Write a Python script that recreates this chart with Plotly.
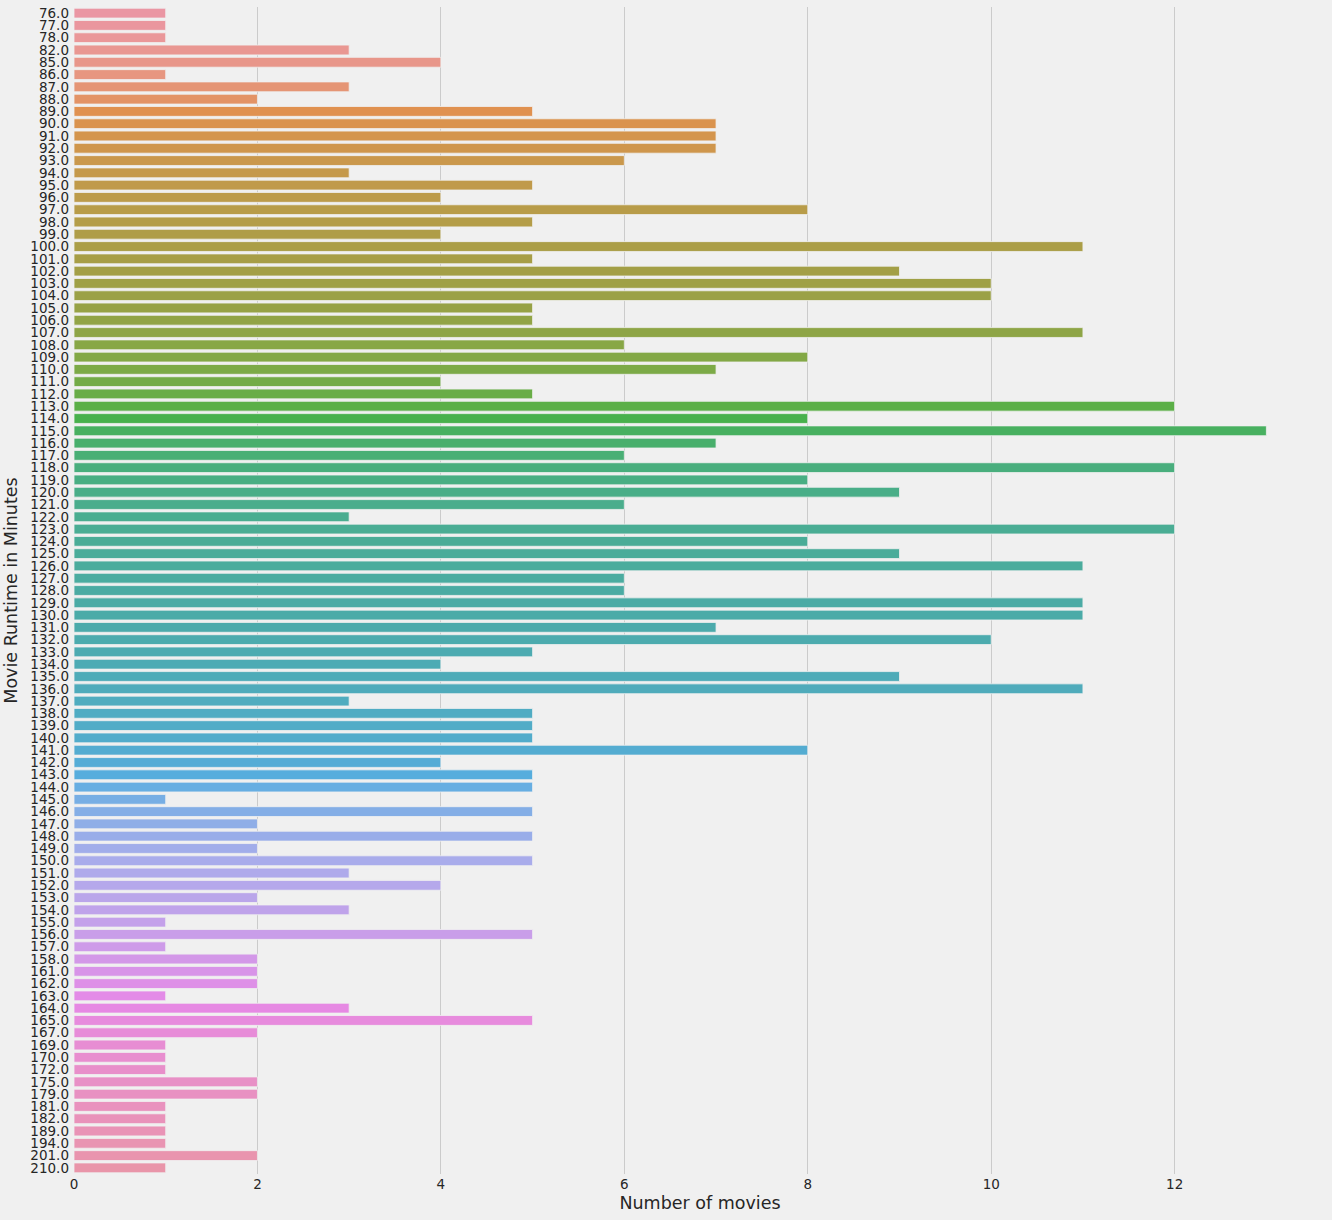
"""Horizontal count bars of movie runtimes, husl-coloured like a seaborn countplot."""
import colorsys
import math

import plotly.graph_objects as go

RUNTIMES = [
    76, 77, 78, 82, 85, 86, 87, 88, 89, 90, 91, 92, 93, 94, 95, 96, 97, 98, 99,
    100, 101, 102, 103, 104, 105, 106, 107, 108, 109, 110, 111, 112, 113, 114,
    115, 116, 117, 118, 119, 120, 121, 122, 123, 124, 125, 126, 127, 128, 129,
    130, 131, 132, 133, 134, 135, 136, 137, 138, 139, 140, 141, 142, 143, 144,
    145, 146, 147, 148, 149, 150, 151, 152, 153, 154, 155, 156, 157, 158, 161,
    162, 163, 164, 165, 167, 169, 170, 172, 175, 179, 181, 182, 189, 194, 201,
    210,
]
COUNTS = [
    1, 1, 1, 3, 4, 1, 3, 2, 5, 7, 7, 7, 6, 3, 5, 4, 8, 5, 4,
    11, 5, 9, 10, 10, 5, 5, 11, 6, 8, 7, 4, 5, 12, 8,
    13, 7, 6, 12, 8, 9, 6, 3, 12, 8, 9, 11, 6, 6, 11,
    11, 7, 10, 5, 4, 9, 11, 3, 5, 5, 5, 8, 4, 5, 5,
    1, 5, 2, 5, 2, 5, 3, 4, 2, 3, 1, 5, 1, 2, 2,
    2, 1, 3, 5, 2, 1, 1, 1, 2, 2, 1, 1, 1, 1, 2,
    1,
]
LABELS = [f"{float(v):.1f}" for v in RUNTIMES]
X_TICKS = [0, 2, 4, 6, 8, 10, 12]

BG = "#f0f0f0"
GRID = "#cbcbcb"
INK = "#262626"
FONT = "DejaVu Sans, sans-serif"

# --- husl (as in seaborn.external.husl) ---------------------------------
M = [[3.2406, -1.5372, -0.4986],
     [-0.9689, 1.8758, 0.0415],
     [0.0557, -0.2040, 1.0570]]
REF_Y, REF_U, REF_V = 1.0, 0.19784, 0.46834
LAB_E, LAB_K = 0.008856, 903.3


def max_chroma(L, H):
    hrad = math.radians(H)
    sin_h, cos_h = math.sin(hrad), math.cos(hrad)
    sub1 = (L + 16) ** 3 / 1560896.0
    sub2 = sub1 if sub1 > LAB_E else L / LAB_K
    best = float("inf")
    for m1, m2, m3 in M:
        top = (0.99915 * m1 + 1.05122 * m2 + 1.14460 * m3) * sub2
        rbottom = 0.86330 * m3 - 0.17266 * m2
        lbottom = 0.12949 * m3 - 0.38848 * m1
        bottom = (rbottom * sin_h + lbottom * cos_h) * sub2
        for t in (0.0, 1.0):
            c = L * (top - 1.05122 * t) / (bottom + 0.17266 * sin_h * t)
            if 0.0 < c < best:
                best = c
    return best


def f_inv(t):
    return t ** 3 if t ** 3 > LAB_E else (116 * t - 16) / LAB_K


def from_linear(c):
    return 12.92 * c if c <= 0.0031308 else 1.055 * c ** (1 / 2.4) - 0.055


def husl_to_rgb(h, s, l):
    C = max_chroma(l, h) / 100.0 * s
    hrad = math.radians(h)
    U, V = C * math.cos(hrad), C * math.sin(hrad)
    var_y = f_inv((l + 16) / 116.0)
    var_u = U / (13.0 * l) + REF_U
    var_v = V / (13.0 * l) + REF_V
    Y = var_y * REF_Y
    X = -(9.0 * Y * var_u) / ((var_u - 4.0) * var_v - var_u * var_v)
    Z = (9.0 * Y - 15.0 * var_v * Y - var_v * X) / (3.0 * var_v)
    rgb = [from_linear(r[0] * X + r[1] * Y + r[2] * Z) for r in M]
    return [min(max(c, 0.0), 1.0) for c in rgb]


def bar_colors(n, sat=0.75):
    out = []
    for i in range(n):
        h = ((i / n + 0.01) % 1) * 359
        r, g, b = husl_to_rgb(h, 0.9 * 99, 0.7 * 99)
        hh, ll, ss = colorsys.rgb_to_hls(r, g, b)
        r, g, b = colorsys.hls_to_rgb(hh, ll, ss * sat)
        out.append(f"rgb({r*255:.0f},{g*255:.0f},{b*255:.0f})")
    return out


fig = go.Figure(go.Bar(
    x=COUNTS, y=LABELS, orientation="h",
    marker=dict(color=bar_colors(len(LABELS)), line=dict(color=BG, width=0.8)),
    hovertemplate="%{y}: %{x}<extra></extra>",
))

fig.update_xaxes(
    range=[0, 13.65], tickvals=X_TICKS,
    showgrid=True, gridcolor=GRID, gridwidth=1,
    zeroline=False, showline=False, ticks="",
    tickfont=dict(size=13.5, color=INK),
    title=dict(text="Number of movies", font=dict(size=17.5, color=INK), standoff=6),
    automargin=False,
)
fig.update_yaxes(
    type="category", categoryorder="array", categoryarray=LABELS,
    tickmode="array", tickvals=LABELS, ticktext=LABELS,
    range=[len(LABELS) - 0.5, -0.5],
    showgrid=False, zeroline=False, showline=False, ticks="",
    ticklabelstandoff=4,
    tickfont=dict(size=13.5, color=INK),
    title=dict(text="Movie Runtime in Minutes", font=dict(size=17.5, color=INK), standoff=8),
    automargin=False,
)

fig.update_layout(
    width=1332, height=1220,
    margin=dict(l=74, r=6, t=7, b=46),
    bargap=0.2,
    paper_bgcolor=BG, plot_bgcolor=BG,
    font=dict(family=FONT, color=INK),
    showlegend=False,
)

fig.write_html(
    "out.html",
    config={"displayModeBar": False},
    post_script="document.body.style.margin='0';document.body.style.overflow='hidden';",
)
